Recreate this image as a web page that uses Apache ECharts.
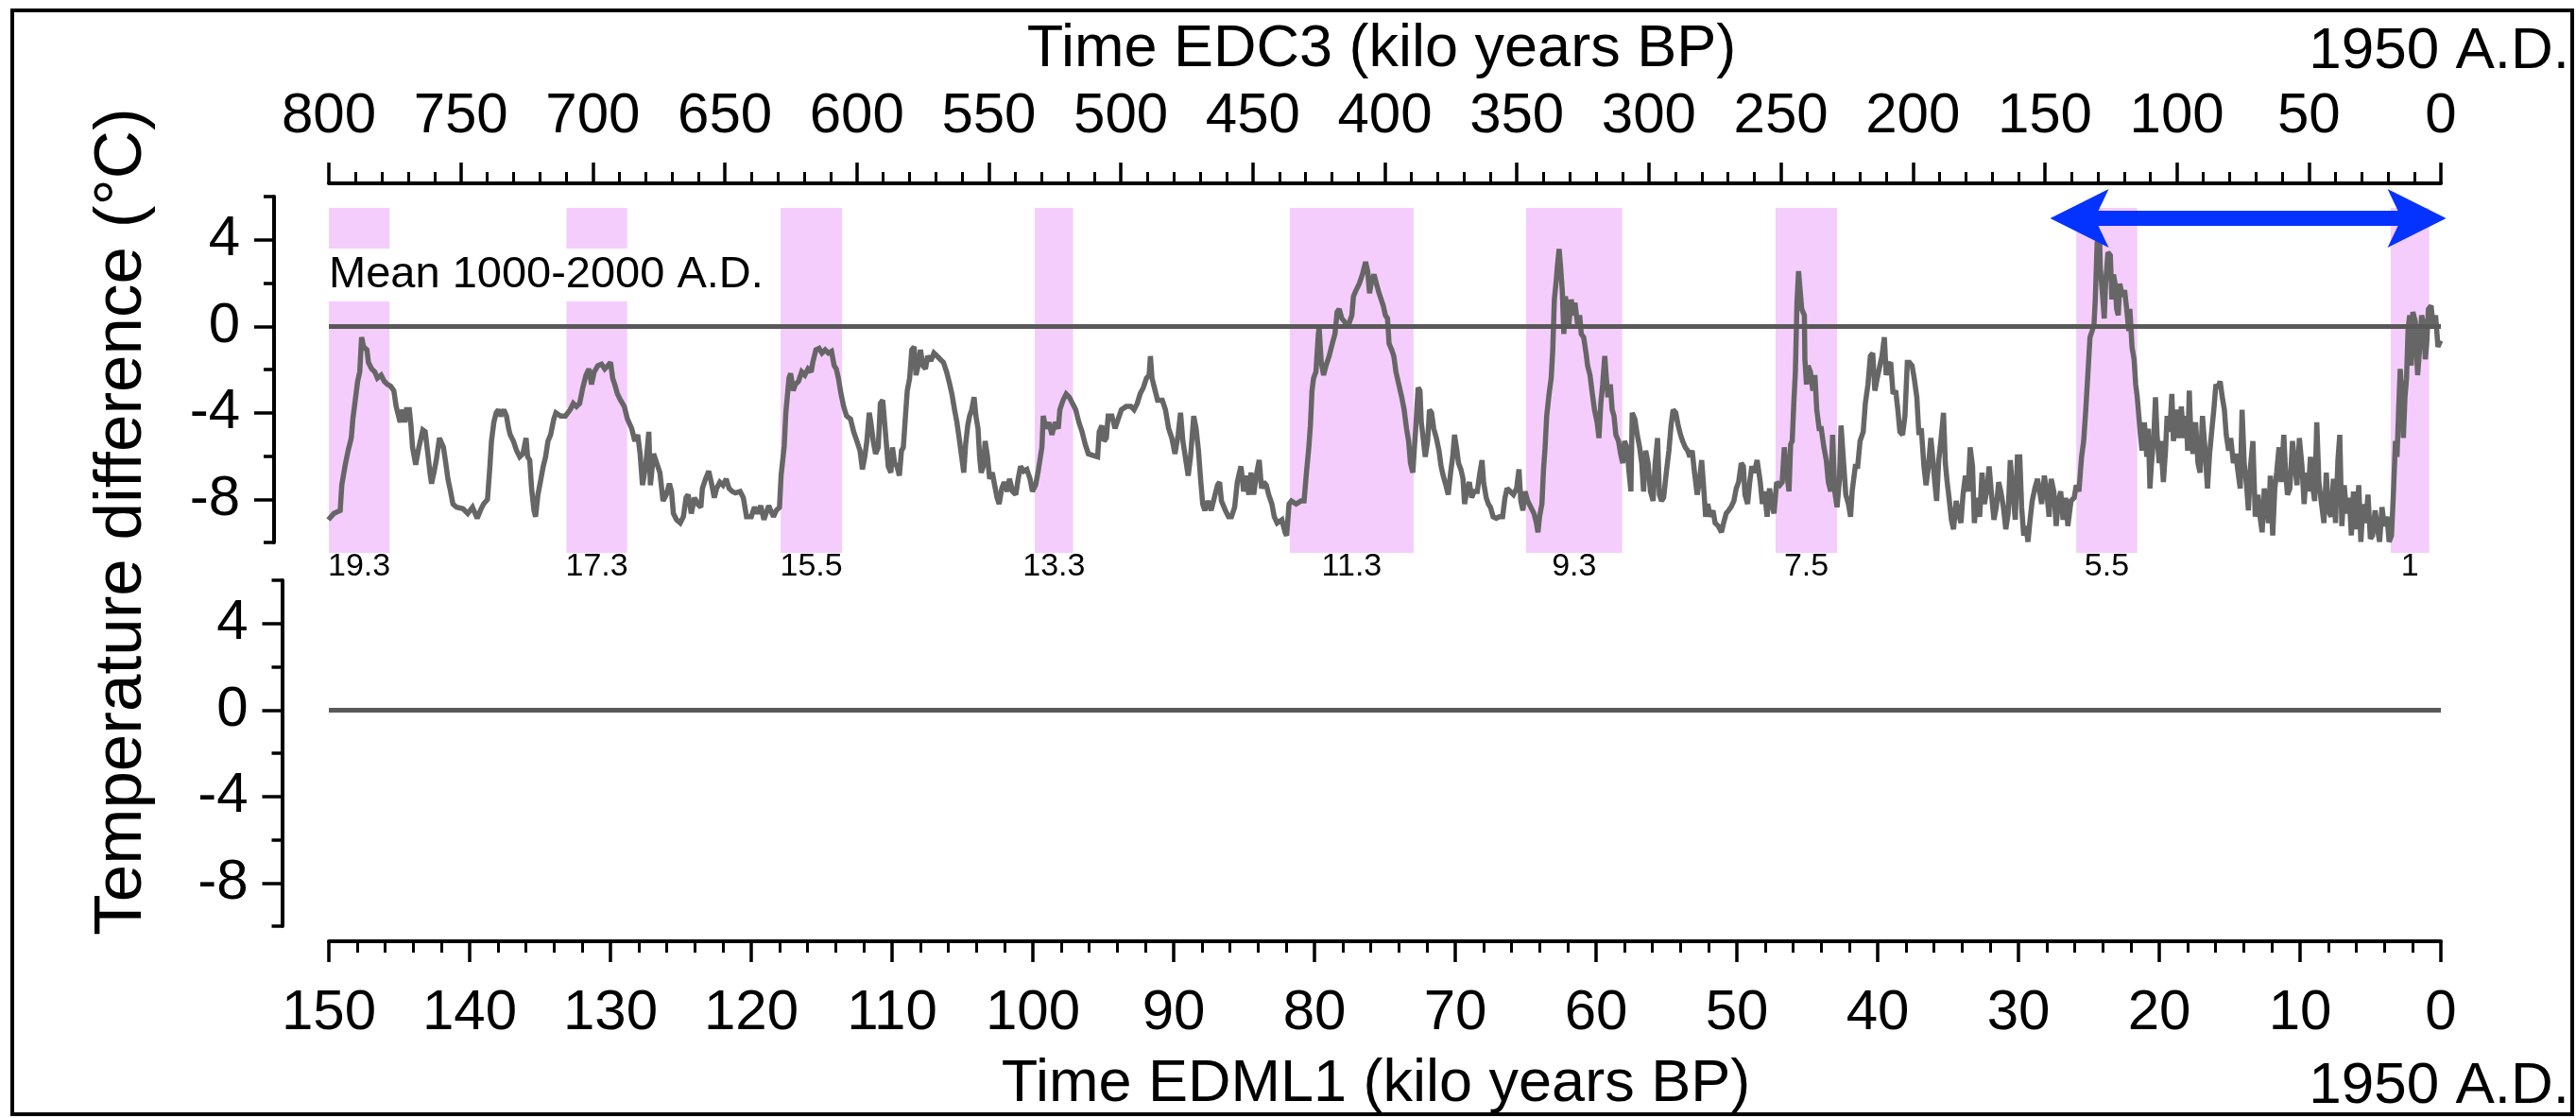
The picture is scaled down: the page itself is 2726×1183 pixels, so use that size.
<!DOCTYPE html>
<html>
<head>
<meta charset="utf-8">
<title>Antarctic temperature, EDC3 / EDML1</title>
<script src="https://cdn.jsdelivr.net/npm/echarts@6/dist/echarts.min.js"></script>
<style>
  html, body { margin: 0; padding: 0; background: #fff; }
  #chart { width: 2726px; height: 1183px; }
</style>
</head>
<body>
<div id="chart"></div>
<script>
const FONT = '"Liberation Sans", Arial, Helvetica, sans-serif'

// [age EDC3 (kyr BP), temperature difference (°C)]
const edc3Temperature = [
  [800.2, -8.95], [798.1, -8.66], [795.7, -8.52], [795.1, -7.35], [793.9, -6.48], [792.7, -5.75], [791.5, -5.17], [790.9, -4.29],
  [790.0, -3.42], [789.1, -2.55], [788.3, -2.11], [787.6, -0.51], [786.8, -0.95], [785.6, -1.09], [785.0, -1.67], [783.8, -1.97],
  [782.6, -2.11], [781.6, -2.40], [780.2, -2.26], [779.0, -2.55], [777.8, -2.69], [776.6, -2.77], [775.4, -2.98], [774.5, -3.71],
  [773.6, -4.15], [773.0, -4.44], [772.1, -3.86], [771.2, -4.44], [770.6, -3.86], [769.5, -3.86], [768.9, -4.59], [768.3, -5.60],
  [767.1, -6.40], [765.9, -5.60], [764.4, -4.80], [763.5, -4.88], [762.5, -5.90], [761.7, -6.77], [761.1, -7.28], [760.2, -6.77],
  [759.3, -6.19], [758.1, -5.17], [757.5, -5.17], [756.6, -5.60], [755.7, -6.33], [754.9, -7.06], [753.9, -7.64], [753.0, -8.22],
  [751.6, -8.37], [749.2, -8.44], [747.4, -8.66], [745.6, -8.37], [743.8, -8.88], [742.6, -8.52], [741.4, -8.22], [739.9, -8.01],
  [739.0, -6.48], [738.4, -5.31], [737.5, -4.44], [736.6, -4.00], [735.8, -3.86], [734.9, -4.15], [733.7, -3.86], [732.7, -4.15],
  [731.9, -4.73], [731.3, -5.02], [730.1, -5.31], [728.9, -5.75], [727.7, -6.04], [726.5, -5.90], [725.3, -5.17], [724.7, -6.04],
  [723.9, -6.19], [723.2, -7.50], [722.3, -8.52], [721.7, -8.81], [720.8, -7.79], [719.9, -7.21], [718.8, -6.48], [717.9, -6.04],
  [717.0, -5.31], [716.0, -5.02], [714.8, -4.29], [714.0, -4.00], [712.2, -4.15], [710.4, -4.15], [708.6, -3.86], [707.4, -3.57],
  [706.2, -3.71], [705.0, -3.57], [703.8, -2.84], [702.6, -2.26], [701.5, -1.97], [700.5, -2.69], [699.5, -2.11], [698.1, -1.82],
  [696.7, -1.75], [695.5, -1.97], [694.3, -1.82], [693.3, -1.67], [692.5, -2.40], [691.7, -2.69], [690.7, -3.13], [689.5, -3.42],
  [688.1, -3.71], [686.9, -4.29], [685.3, -4.73], [684.1, -5.31], [683.0, -5.02], [682.1, -5.90], [681.2, -7.35], [680.0, -6.48],
  [678.8, -4.88], [678.2, -7.35], [677.0, -5.90], [675.8, -6.33], [674.6, -6.77], [673.4, -8.08], [672.2, -7.79], [671.0, -7.28],
  [670.2, -7.64], [669.5, -8.66], [668.3, -8.95], [666.9, -9.10], [665.7, -8.81], [664.7, -7.93], [663.9, -7.79], [662.7, -8.66],
  [661.5, -7.93], [660.3, -8.22], [659.1, -8.37], [658.5, -7.50], [657.3, -7.06], [656.1, -6.70], [654.9, -7.35], [654.0, -7.93],
  [653.1, -7.50], [651.9, -7.21], [650.7, -7.35], [649.5, -7.06], [648.4, -7.50], [647.2, -7.64], [646.0, -7.71], [644.2, -7.64],
  [643.0, -7.93], [641.8, -8.81], [640.0, -8.81], [638.8, -8.37], [637.6, -8.66], [636.4, -8.30], [635.2, -8.95], [633.4, -8.30],
  [631.6, -8.81], [630.5, -8.52], [629.3, -8.37], [628.7, -6.91], [627.5, -5.53], [626.9, -4.00], [625.7, -2.40], [625.1, -2.18],
  [624.1, -2.98], [623.3, -2.69], [622.1, -2.55], [620.9, -2.11], [619.7, -2.26], [618.5, -1.97], [617.3, -2.11], [616.7, -1.67],
  [615.5, -1.09], [614.3, -1.02], [613.2, -1.24], [612.0, -1.09], [610.8, -1.24], [609.6, -1.16], [608.6, -1.82], [607.8, -1.97],
  [607.0, -2.40], [606.0, -3.13], [605.0, -3.71], [603.9, -4.15], [602.4, -4.29], [601.2, -4.88], [600.0, -5.31], [598.8, -5.75],
  [597.9, -6.62], [597.0, -6.04], [596.2, -5.31], [595.3, -4.00], [594.7, -4.44], [593.8, -5.31], [592.9, -5.90], [591.9, -5.60],
  [591.1, -3.57], [590.2, -3.42], [589.5, -4.44], [588.9, -5.31], [588.1, -6.48], [587.1, -6.77], [586.5, -5.60], [585.7, -6.33],
  [584.8, -6.48], [583.9, -6.91], [583.1, -5.75], [582.4, -5.60], [581.5, -4.00], [580.9, -2.98], [580.0, -2.40], [579.2, -1.09],
  [578.3, -0.95], [577.6, -2.26], [576.8, -1.82], [575.9, -1.09], [575.0, -1.82], [574.0, -1.97], [573.2, -1.38], [572.0, -1.60],
  [570.8, -1.24], [569.6, -1.38], [568.4, -1.53], [567.2, -1.67], [566.0, -2.11], [564.8, -2.69], [564.0, -3.13], [563.0, -3.86],
  [562.1, -4.44], [561.1, -5.31], [560.3, -6.04], [559.5, -6.77], [558.8, -5.46], [558.0, -4.59], [557.3, -4.15], [556.5, -3.86],
  [555.6, -3.28], [554.9, -4.15], [554.1, -4.73], [553.5, -6.04], [552.9, -6.77], [552.1, -6.48], [551.4, -5.31], [550.5, -6.04],
  [549.7, -7.06], [548.7, -6.77], [547.8, -7.35], [546.9, -7.93], [546.1, -8.22], [545.1, -7.50], [544.2, -7.21], [543.0, -7.64],
  [542.2, -7.06], [541.0, -7.64], [539.8, -7.79], [538.9, -7.06], [538.0, -6.48], [536.8, -6.70], [535.6, -6.62], [534.4, -7.06],
  [533.5, -7.64], [532.3, -7.35], [531.4, -6.77], [529.9, -5.60], [529.4, -4.15], [528.4, -4.73], [527.3, -4.44], [526.1, -5.02],
  [524.9, -4.44], [523.7, -4.73], [523.1, -3.86], [521.9, -3.42], [520.7, -3.13], [519.5, -3.28], [518.3, -3.57], [517.1, -3.86],
  [515.9, -4.44], [514.7, -4.88], [513.5, -5.46], [512.3, -5.90], [510.6, -5.97], [508.8, -6.04], [508.2, -4.88], [507.2, -4.59],
  [506.4, -5.31], [505.5, -5.17], [504.8, -4.15], [503.4, -4.15], [502.2, -4.73], [501.0, -4.29], [499.8, -3.86], [498.0, -3.71],
  [496.2, -3.71], [495.0, -3.86], [493.8, -3.57], [492.7, -3.13], [491.5, -2.84], [490.3, -2.40], [489.3, -2.26], [488.8, -1.38],
  [488.2, -2.40], [487.3, -2.84], [486.1, -3.42], [484.3, -3.42], [483.1, -3.86], [481.9, -4.73], [480.7, -5.17], [479.5, -5.90],
  [478.3, -5.02], [477.4, -4.00], [476.5, -5.31], [475.4, -6.19], [474.5, -6.91], [473.6, -6.04], [472.4, -4.15], [471.5, -4.73],
  [470.6, -5.75], [469.7, -7.21], [469.0, -8.22], [468.2, -8.52], [467.0, -8.08], [465.8, -8.52], [464.6, -7.93], [463.4, -7.35],
  [462.6, -7.21], [461.9, -8.08], [460.4, -8.52], [459.2, -8.81], [458.1, -8.81], [456.9, -8.37], [455.9, -7.21], [455.1, -6.77],
  [454.5, -6.48], [453.5, -7.64], [452.7, -6.91], [451.5, -7.79], [450.7, -6.77], [449.7, -7.79], [448.5, -6.77], [447.6, -6.19],
  [446.7, -7.50], [445.9, -7.21], [444.9, -7.35], [444.0, -7.79], [442.8, -8.22], [441.9, -8.81], [440.8, -9.10], [439.0, -8.95],
  [437.8, -9.53], [437.2, -9.68], [436.3, -8.22], [435.4, -8.08], [433.6, -8.22], [431.8, -8.08], [430.6, -8.08], [429.7, -6.77],
  [428.8, -5.60], [428.2, -4.59], [427.6, -2.98], [427.0, -2.40], [426.1, -2.11], [425.2, -0.36], [424.9, -0.07], [424.1, -1.67],
  [423.2, -2.26], [422.3, -1.82], [421.1, -1.38], [419.9, -0.80], [418.9, -0.36], [418.1, 0.66], [417.3, 0.80], [416.3, 0.36],
  [415.3, 0.22], [414.1, -0.07], [413.3, 0.22], [412.5, 0.51], [411.9, 1.38], [410.9, 1.67], [409.7, 1.97], [408.5, 2.40],
  [407.3, 2.98], [406.5, 2.55], [405.8, 1.53], [405.0, 2.11], [404.1, 2.40], [403.2, 1.97], [402.2, 1.53], [401.4, 1.24],
  [400.6, 0.95], [399.8, 0.51], [399.0, 0.36], [398.4, -0.80], [397.4, -1.09], [396.6, -1.38], [395.8, -2.11], [393.6, -3.28],
  [392.7, -3.86], [391.8, -4.73], [391.0, -5.31], [390.3, -6.33], [389.4, -6.77], [388.8, -5.60], [388.3, -4.73], [387.4, -2.84],
  [386.7, -2.98], [386.2, -4.44], [385.5, -5.17], [384.7, -6.04], [383.8, -5.31], [383.1, -3.86], [382.3, -4.00], [381.5, -4.73],
  [380.5, -5.17], [379.5, -5.75], [378.7, -6.48], [377.9, -6.91], [376.9, -7.35], [376.0, -7.79], [375.1, -6.77], [374.3, -6.04],
  [373.6, -5.02], [372.7, -5.75], [372.1, -6.33], [371.2, -6.62], [370.4, -7.06], [369.8, -8.22], [368.8, -7.50], [368.0, -7.21],
  [367.1, -7.93], [366.2, -7.64], [365.0, -7.64], [364.0, -6.77], [363.2, -6.19], [362.6, -7.21], [361.6, -7.93], [360.8, -8.22],
  [360.0, -8.37], [359.0, -8.81], [357.8, -8.88], [356.6, -8.81], [355.4, -8.81], [354.5, -7.93], [353.7, -7.50], [352.5, -7.64],
  [351.3, -7.79], [350.1, -7.50], [349.2, -6.62], [348.5, -8.08], [347.7, -8.52], [346.9, -7.64], [345.9, -8.08], [344.7, -8.37],
  [343.5, -8.66], [342.6, -9.10], [342.0, -9.53], [341.4, -8.81], [340.5, -8.22], [339.9, -6.62], [339.3, -5.60], [338.7, -4.15],
  [337.8, -3.13], [337.0, -2.40], [336.4, -1.09], [335.8, 1.24], [335.2, 1.97], [334.6, 2.84], [334.0, 3.57], [333.4, 2.69],
  [332.8, 1.67], [332.2, -0.36], [331.6, 1.38], [331.0, 0.80], [330.4, -0.07], [329.4, 1.24], [328.6, 0.51], [328.0, 1.09],
  [327.0, 0.07], [326.2, 0.51], [325.6, -0.36], [324.7, -0.51], [323.8, -1.24], [323.2, -1.82], [322.3, -2.26], [321.4, -3.13],
  [320.6, -3.86], [319.6, -4.44], [318.9, -5.17], [318.2, -3.57], [317.5, -2.69], [316.7, -1.38], [316.1, -2.40], [315.5, -3.28],
  [314.6, -2.69], [313.9, -3.86], [313.2, -4.15], [312.5, -5.02], [311.5, -5.31], [310.7, -5.90], [309.9, -6.33], [309.2, -5.31],
  [308.3, -5.60], [307.5, -6.77], [306.8, -7.64], [306.3, -4.00], [305.3, -4.29], [304.4, -5.02], [303.5, -5.60], [302.7, -6.33],
  [302.0, -7.64], [301.2, -5.75], [300.3, -6.33], [299.4, -7.64], [298.4, -8.08], [297.6, -6.33], [296.7, -5.17], [296.0, -7.79],
  [295.2, -8.08], [294.4, -7.93], [293.4, -6.77], [292.4, -5.75], [291.6, -4.59], [290.8, -3.86], [289.8, -4.00], [288.9, -4.59],
  [288.0, -5.02], [287.2, -5.31], [286.2, -5.60], [285.3, -5.75], [284.5, -6.04], [283.6, -5.75], [282.7, -6.77], [281.7, -7.79],
  [280.9, -7.21], [280.0, -6.19], [279.3, -7.35], [278.5, -8.81], [277.7, -8.22], [276.7, -8.81], [275.7, -8.52], [274.9, -9.10],
  [273.7, -9.24], [272.5, -9.53], [271.7, -9.10], [270.7, -8.66], [269.8, -8.52], [268.9, -8.37], [267.8, -8.08], [266.9, -7.50],
  [266.0, -7.21], [265.0, -6.33], [264.2, -6.48], [263.6, -7.79], [262.6, -8.22], [261.8, -7.21], [261.0, -6.48], [260.0, -6.77],
  [259.0, -6.19], [257.8, -7.21], [257.0, -8.22], [256.2, -7.64], [255.2, -8.81], [254.3, -7.50], [253.4, -8.22], [252.6, -8.66],
  [251.6, -7.21], [250.4, -7.35], [249.5, -7.21], [248.7, -5.60], [247.8, -6.77], [246.9, -7.64], [246.3, -5.46], [245.7, -5.31],
  [245.1, -3.57], [244.5, -2.11], [243.9, 1.09], [243.3, 2.55], [242.7, 2.55], [242.1, 0.80], [241.1, 0.51], [240.9, -1.53],
  [240.3, -2.69], [239.7, -1.82], [238.8, -2.11], [237.9, -2.98], [237.1, -2.26], [236.4, -3.86], [235.5, -4.73], [234.7, -4.73],
  [233.7, -5.60], [232.8, -6.19], [232.0, -7.21], [231.1, -7.64], [230.4, -5.02], [229.6, -7.64], [228.7, -8.37], [227.8, -7.06],
  [227.2, -4.59], [226.3, -6.19], [225.4, -7.79], [224.4, -8.22], [223.6, -8.81], [223.0, -7.64], [221.8, -6.48], [220.9, -6.48],
  [220.0, -5.31], [218.8, -4.88], [218.0, -3.57], [217.0, -2.69], [216.1, -1.38], [215.2, -1.24], [214.4, -2.98], [213.5, -2.40],
  [212.5, -1.82], [211.7, -1.38], [210.8, -0.51], [210.1, -2.26], [209.3, -1.82], [208.4, -1.67], [207.5, -3.13], [206.5, -2.98],
  [205.7, -3.86], [204.9, -4.88], [203.9, -5.02], [203.0, -4.15], [202.1, -1.67], [201.3, -1.67], [200.3, -1.82], [199.5, -2.40],
  [198.5, -3.28], [197.7, -5.02], [196.8, -4.73], [195.8, -6.48], [195.0, -7.35], [194.1, -6.48], [193.2, -5.17], [192.6, -5.90],
  [191.7, -7.21], [191.0, -8.08], [190.2, -6.19], [189.4, -5.31], [188.4, -4.00], [187.7, -6.33], [187.0, -7.21], [186.3, -7.93],
  [185.4, -8.95], [184.6, -9.39], [183.6, -8.08], [182.7, -8.66], [181.8, -9.10], [181.0, -7.79], [180.1, -6.91], [179.1, -7.64],
  [178.3, -5.60], [177.4, -6.48], [176.7, -9.10], [175.9, -7.93], [174.7, -8.81], [173.8, -6.77], [172.9, -8.22], [171.9, -7.50],
  [171.1, -6.48], [170.3, -7.64], [169.3, -8.95], [168.4, -8.37], [167.5, -7.21], [166.7, -7.64], [165.7, -8.37], [164.8, -9.39],
  [163.9, -8.66], [163.1, -6.19], [162.2, -7.64], [161.2, -8.95], [160.4, -6.04], [159.5, -6.04], [158.8, -8.37], [158.0, -9.68],
  [157.1, -9.24], [156.4, -9.97], [155.6, -8.95], [154.8, -8.08], [153.8, -7.50], [152.8, -7.06], [152.0, -7.64], [151.2, -8.22],
  [150.2, -6.91], [149.3, -7.64], [148.4, -8.81], [147.6, -7.06], [146.6, -7.64], [145.7, -9.24], [144.9, -8.08], [144.0, -7.64],
  [143.1, -8.95], [142.1, -7.93], [141.3, -9.24], [140.1, -8.08], [138.9, -7.93], [138.1, -7.35], [137.1, -7.64], [136.1, -6.04],
  [135.3, -5.31], [134.5, -3.86], [133.8, -2.40], [132.9, -0.51], [132.1, -0.22], [131.4, 0.07], [130.9, 1.24], [130.2, 3.86],
  [129.3, 4.29], [129.0, 2.69], [128.1, 1.38], [127.5, 0.36], [127.0, 1.97], [126.1, 3.42], [125.2, 3.28], [124.6, 1.24],
  [124.0, 2.40], [123.4, 1.97], [122.8, 0.80], [122.2, 0.51], [121.6, 1.97], [120.6, 1.38], [119.8, 1.67], [119.0, 0.80],
  [118.2, -0.22], [117.8, 0.80], [117.0, -0.95], [116.2, -1.53], [115.6, -2.69], [115.0, -3.28], [114.4, -4.15], [113.8, -5.02],
  [113.2, -5.75], [112.3, -4.44], [111.4, -6.04], [110.8, -4.73], [110.2, -7.50], [109.7, -6.48], [108.7, -5.02], [108.1, -3.28],
  [107.5, -5.02], [106.7, -6.33], [106.1, -5.31], [105.1, -7.21], [104.3, -5.75], [103.7, -4.15], [102.7, -4.88], [101.9, -3.13],
  [101.3, -5.31], [100.7, -4.73], [100.1, -3.86], [99.2, -5.17], [98.3, -3.71], [97.5, -5.17], [96.5, -4.15], [95.9, -5.75],
  [95.3, -2.98], [94.7, -5.02], [93.9, -5.90], [92.9, -4.44], [92.0, -6.33], [91.2, -6.77], [90.3, -4.15], [89.4, -5.60],
  [88.4, -7.50], [87.6, -5.90], [86.7, -4.73], [86.0, -3.86], [85.2, -2.69], [84.6, -2.84], [83.6, -2.55], [82.8, -3.28],
  [82.0, -3.86], [81.3, -5.02], [80.4, -5.75], [79.6, -5.17], [78.6, -6.33], [77.7, -5.90], [76.8, -6.77], [76.0, -7.50],
  [75.3, -3.86], [74.5, -6.33], [73.6, -7.35], [72.9, -8.52], [72.1, -6.48], [71.2, -5.31], [70.3, -8.81], [69.3, -7.79],
  [68.5, -8.81], [67.7, -9.53], [66.9, -7.50], [66.1, -8.22], [65.3, -9.10], [64.6, -6.91], [63.7, -9.68], [62.9, -7.50],
  [62.2, -6.77], [61.3, -5.60], [60.5, -7.21], [59.5, -5.02], [58.8, -6.77], [58.1, -7.79], [57.2, -7.50], [56.2, -5.31],
  [55.4, -6.33], [54.5, -7.35], [53.6, -5.17], [52.6, -6.48], [51.8, -8.22], [51.0, -6.77], [50.2, -7.64], [49.4, -6.04],
  [48.6, -7.35], [47.8, -8.08], [47.0, -4.44], [46.2, -7.21], [45.2, -8.22], [44.3, -9.10], [43.4, -6.77], [42.6, -8.52],
  [41.6, -8.81], [40.7, -7.06], [39.9, -9.10], [39.0, -6.19], [38.3, -5.02], [37.5, -9.24], [36.6, -7.35], [35.7, -8.66],
  [34.7, -7.93], [33.9, -9.68], [33.1, -7.64], [32.1, -9.39], [31.1, -7.35], [30.3, -9.97], [29.5, -8.22], [28.5, -9.10],
  [27.6, -7.79], [26.7, -9.83], [25.9, -9.68], [24.9, -8.52], [24.0, -9.39], [23.2, -9.97], [22.3, -8.37], [21.4, -9.24],
  [20.4, -8.81], [19.6, -9.97], [18.7, -9.68], [18.0, -7.79], [17.2, -5.31], [16.6, -6.04], [16.0, -3.86], [15.4, -1.97],
  [14.8, -3.13], [14.2, -5.17], [13.6, -3.28], [13.0, -2.40], [12.4, -0.07], [11.8, 0.51], [11.2, -1.82], [10.6, 0.66],
  [9.7, 0.22], [8.8, -2.26], [8.0, -0.95], [7.3, 0.51], [6.5, 0.07], [5.9, -1.53], [5.3, -0.66], [4.7, 0.80],
  [3.7, 0.95], [2.9, -0.07], [2.0, 0.51], [1.1, -0.95], [0.1, -0.66]
]

// interglacials (EDC3 kyr BP) and their marine isotope stage labels
const interglacials = [[800, 777], [710, 687], [628.9, 605.6], [532.6, 518.1], [436, 389.1], [346.5, 310.1], [252, 228.7], [138.1, 115], [19, 4.4]]
const stageLabels = ['19.3', '17.3', '15.5', '13.3', '11.3', '9.3', '7.5', '5.5', '1']

const edc3Range = [0, 800]
const edc3Step = 50
const edml1Range = [0, 150]
const edml1Step = 10
const tempRange = [-10, 6]
const tempStep = 4 // counted from -10: short ticks at -10, -6, -2, 2, 6
const tempLabelTicks = [4, 0, -4, -8]
const meanLevel = 0

// double arrow over the last glacial cycle (kyr), height in °C
const arrowSpan = [148, -2]
const arrowLevel = 5

function timeAxis (gridIndex, range, step, position, offset, margin) {
  return {
    type: 'value',
    gridIndex: gridIndex,
    position: position,
    offset: offset,
    min: range[0],
    max: range[1],
    interval: step,
    inverse: true,
    axisLine: { onZero: false, lineStyle: { color: '#000', width: 4 } },
    axisTick: { length: 22, lineStyle: { color: '#000', width: 3.5 } },
    minorTick: { show: true, splitNumber: 5, length: 12, lineStyle: { color: '#000', width: 3 } },
    axisLabel: { color: '#000', fontSize: 60, fontFamily: FONT, margin: margin, showMinLabel: true, showMaxLabel: true },
    splitLine: { show: false },
    minorSplitLine: { show: false }
  }
}

// the labelled values (-8, -4, 0, 4) sit half way between the axis ticks,
// so they get the longer minor ticks
function tempAxis (gridIndex, offset) {
  return {
    type: 'value',
    gridIndex: gridIndex,
    position: 'left',
    offset: offset,
    min: tempRange[0],
    max: tempRange[1],
    interval: tempStep,
    axisLine: { onZero: false, lineStyle: { color: '#000', width: 4 } },
    axisTick: { length: 11, lineStyle: { color: '#000', width: 3.5 } },
    minorTick: { show: true, splitNumber: 2, length: 21, lineStyle: { color: '#000', width: 3.5 } },
    axisLabel: {
      customValues: tempLabelTicks,
      color: '#000',
      fontSize: 60,
      fontFamily: FONT,
      margin: 36
    },
    splitLine: { show: false },
    minorSplitLine: { show: false }
  }
}

function renderArrow (params, api) {
  const a = api.coord([api.value(0), api.value(2)])
  const b = api.coord([api.value(1), api.value(2)])
  const y = a[1]
  const l = a[0]
  const r = b[0]
  const hl = 62 // head length
  const hw = 31 // head half width
  const sw = 8 // shaft half width
  const notch = 11
  return {
    type: 'polygon',
    shape: {
      points: [
        [l, y], [l + hl, y - hw], [l + hl - notch, y - sw], [r - hl + notch, y - sw], [r - hl, y - hw],
        [r, y], [r - hl, y + hw], [r - hl + notch, y + sw], [l + hl - notch, y + sw], [l + hl, y + hw]
      ]
    },
    style: { fill: '#0433ff' }
  }
}

function textEl (text, x, y, size, align, extra) {
  return Object.assign({
    type: 'text',
    x: x,
    y: y,
    z: 20,
    style: {
      text: text,
      fill: '#000',
      font: 'normal ' + size + 'px ' + FONT,
      textAlign: align,
      textVerticalAlign: 'middle'
    }
  }, extra || {})
}

function getOptions () {
  const meanLine = {
    silent: true,
    symbol: 'none',
    label: { show: false },
    lineStyle: { color: '#595959', width: 5, type: 'solid' },
    data: [{ yAxis: meanLevel }]
  }
  return {
    animation: false,
    backgroundColor: '#fff',
    grid: [
      { left: 348, right: 143, top: 208, height: 366 },
      { left: 348, right: 143, top: 220, height: 365 },
      { left: 348, right: 143, top: 614, height: 366 }
    ],
    xAxis: [
      timeAxis(0, edc3Range, edc3Step, 'top', 14, 41),
      { type: 'value', gridIndex: 1, min: edc3Range[0], max: edc3Range[1], inverse: true, show: false },
      timeAxis(2, edml1Range, edml1Step, 'bottom', 16, 46)
    ],
    yAxis: [
      tempAxis(0, 58),
      { type: 'value', gridIndex: 1, min: 0, max: 1, show: false },
      tempAxis(2, 49.5)
    ],
    graphic: [
      {
        type: 'rect',
        shape: { x: 13, y: 11, width: 2709, height: 1168 },
        style: { fill: 'none', stroke: '#000', lineWidth: 4 },
        z: 20
      },
      textEl('Time EDC3 (kilo years BP)', 1462, 53, 63, 'center'),
      textEl('1950 A.D.', 2719, 55, 62, 'right'),
      textEl('Time EDML1 (kilo years BP)', 1456, 1148, 63, 'center'),
      textEl('1950 A.D.', 2719, 1150, 62, 'right'),
      textEl('Temperature difference (°C)', 129, 552, 71, 'center', { rotation: Math.PI / 2 }),
      {
        type: 'text',
        x: 346,
        y: 291,
        z: 20,
        style: {
          text: 'Mean 1000-2000 A.D.',
          fill: '#000',
          font: 'normal 47px ' + FONT,
          textAlign: 'left',
          textVerticalAlign: 'middle',
          backgroundColor: '#fff',
          padding: [5, 8, 4, 2]
        }
      }
    ],
    series: [
      {
        type: 'line',
        xAxisIndex: 1,
        yAxisIndex: 1,
        data: [],
        z: 1,
        markArea: {
          silent: true,
          itemStyle: { color: '#f5cdfc' },
          label: { show: true, position: 'bottom', distance: -2, color: '#000', fontSize: 34, fontFamily: FONT },
          data: interglacials.map((r, i) => [{ name: stageLabels[i], xAxis: r[0] }, { xAxis: r[1] }])
        }
      },
      {
        type: 'line',
        xAxisIndex: 0,
        yAxisIndex: 0,
        data: edc3Temperature,
        showSymbol: false,
        z: 3,
        lineStyle: { color: '#666', width: 5.5, join: 'miter', miterLimit: 2 },
        markLine: meanLine
      },
      {
        type: 'line',
        xAxisIndex: 2,
        yAxisIndex: 2,
        data: [],
        markLine: meanLine
      },
      {
        type: 'custom',
        xAxisIndex: 0,
        yAxisIndex: 0,
        clip: false,
        z: 10,
        data: [[arrowSpan[0], arrowSpan[1], arrowLevel]],
        renderItem: renderArrow
      }
    ]
  }
}

const chart = echarts.init(document.getElementById('chart'))
chart.setOption(getOptions())
</script>
</body>
</html>
